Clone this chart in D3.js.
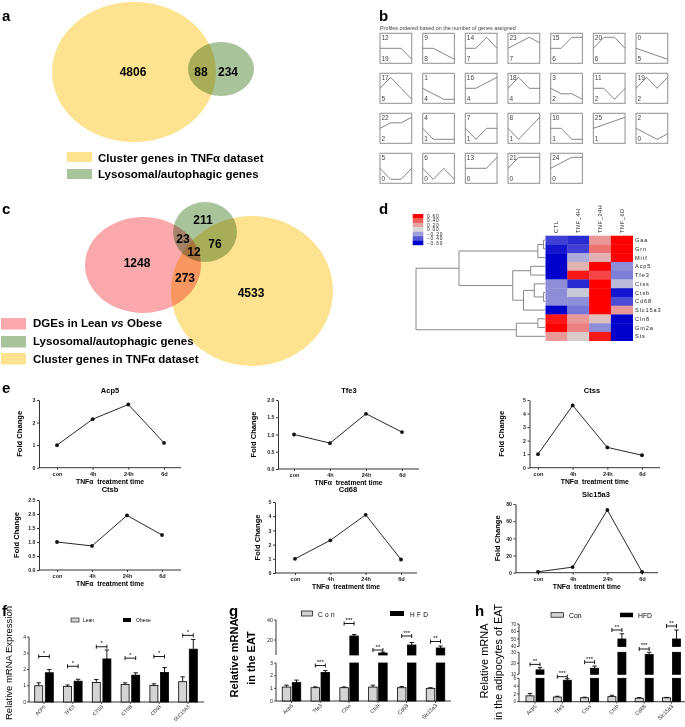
<!DOCTYPE html>
<html><head><meta charset="utf-8">
<script src="https://cdn.jsdelivr.net/npm/d3@7"></script>
<style>
body{margin:0;background:#fff}
text{font-family:"Liberation Sans",Arial,sans-serif}
</style>
</head><body>
<svg id="c" width="685" height="727"></svg>
<script>
// ---------------- DATA ----------------
const vennALabels = ["Cluster genes in TNFα dataset", "Lysosomal/autophagic genes"];
const vennACounts = [4806, 88, 234]; // TNF only, overlap, lyso only
const vennCLabels = ["DGEs in Lean vs Obese", "Lysosomal/autophagic genes", "Cluster genes in TNFα dataset"];
const vennCCounts = [211, 23, 76, 12, 1248, 273, 4533]; // lyso, DGE∩lyso, lyso∩TNF, all, DGE, DGE∩TNF, TNF

const profileIds    = [12, 9, 14, 23, 15, 20, 0, 17, 1, 16, 18, 3, 11, 19, 22, 4, 7, 8, 10, 25, 2, 5, 6, 13, 21, 24];
const profileCounts = [19, 8, 7, 7, 6, 6, 5, 5, 4, 4, 4, 2, 2, 2, 2, 1, 1, 1, 1, 1, 0, 0, 0, 0, 0, 0];
const profileShapes = [
  [0,0,0,-1],[0,0,-1,-2],[0,0,1,0],[0,1,2,1],[0,0,1,1],[0,1,1,0],[0,-1,-2,-3],
  [0,1,0,-1],[0,-1,-2,-2],[0,0,1,2],[0,1,0,0],[0,-1,-1,-2],[0,0,-1,0],[0,1,0,1],
  [0,1,1,2],[0,-1,-1,-1],[0,-1,0,0],[0,-1,0,1],[0,0,-1,-1],[0,1,2,3],[0,-1,-2,-1],
  [0,-1,-1,0],[0,-1,0,-1],[0,0,0,1],[0,1,1,1],[0,1,2,2]
];

const heatCols  = ["CTL", "TNF_4H", "TNF_24H", "TNF_6D"];
const heatGenes = ["Gaa", "Grn", "Mitf", "Acp5", "Tfe3", "Ctss", "Ctsb", "Cd68", "Slc15a3", "Cln8", "Gm2a", "Sts"];
const heatValues = [
  [-0.45, -0.50,  0.25,  0.60],
  [-0.55, -0.45,  0.35,  0.60],
  [-0.60, -0.15,  0.15,  0.60],
  [-0.60,  0.15,  0.60, -0.25],
  [-0.60,  0.55,  0.45, -0.30],
  [-0.25, -0.50,  0.60, -0.10],
  [-0.25, -0.05,  0.60, -0.55],
  [-0.25, -0.25,  0.60, -0.42],
  [-0.60, -0.32,  0.60,  0.25],
  [ 0.55,  0.25,  0.10, -0.60],
  [ 0.60,  0.32, -0.25, -0.60],
  [ 0.25,  0.05,  0.55, -0.60]
];
const heatLegendTicks = [0.6, 0.4, 0.2, 0.0, -0.2, -0.4, -0.6];
const dendroTree = {h:1.8, children:[
  {h:1.2, children:[
    {h:0.1, children:[{h:0.02, children:[{leaf:"Gaa"},{leaf:"Grn"}]}, {leaf:"Mitf"}]},
    {h:0.45, children:[
      {h:0.2, children:[{leaf:"Acp5"},{leaf:"Tfe3"}]},
      {h:0.3, children:[{h:0.15, children:[{leaf:"Ctss"},{h:0.02, children:[{leaf:"Ctsb"},{leaf:"Cd68"}]}]}, {leaf:"Slc15a3"}]}
    ]}
  ]},
  {h:0.4, children:[{h:0.1, children:[{leaf:"Cln8"},{leaf:"Gm2a"}]}, {leaf:"Sts"}]}
]};

const timePoints = ["con", "4h", "24h", "6d"];
const foldGenes  = ["Acp5", "Tfe3", "Ctss", "Ctsb", "Cd68", "Slc15a3"];
const foldAcp5   = [1.0, 2.15, 2.8, 1.1];
const foldTfe3   = [1.0, 0.75, 1.6, 1.07];
const foldCtss   = [1.0, 4.6, 1.5, 0.92];
const foldCtsb   = [1.0, 0.86, 1.95, 1.25];
const foldCd68   = [1.0, 2.3, 4.1, 0.95];
const foldSlc15a3= [1.0, 6.5, 73, 1.0];
const foldTicks  = [[0,1,2,3],[0,0.5,1,1.5,2],[0,1,2,3,4,5],[0,0.5,1,1.5,2,2.5],[0,1,2,3,4,5],[0,20,40,60,80]];

const fGenes   = ["ACP5", "TFE3", "CTSS", "CTSB", "CD68", "SLC15A3"];
const fLean    = [1.0, 0.95, 1.2, 1.08, 1.02, 1.25];
const fLeanErr = [0.18, 0.1, 0.18, 0.1, 0.1, 0.3];
const fObese   = [1.8, 1.28, 2.65, 1.65, 1.82, 3.25];
const fObeseErr= [0.2, 0.12, 0.55, 0.15, 0.3, 0.6];
const fSig     = ["*", "*", "*", "*", "*", "*"];
const fSigY    = [2.8, 2.2, 3.4, 2.7, 2.8, 4.1];
const fTicks   = [0, 1, 2, 3, 4];

const ghGenes  = ["Acp5", "Tfe3", "Ctss", "Ctsb", "Cd68", "Slc15a3"];
const gCon     = [1.1, 1.05, 1.05, 1.1, 1.05, 1.0];
const gConErr  = [0.15, 0.07, 0.06, 0.15, 0.1, 0.05];
const gHFD     = [1.45, 2.25, 24, 7, 15, 12];
const gHFDErr  = [0.2, 0.15, 1.5, 0.8, 2.5, 2];
const gSig     = ["", "***", "***", "**", "***", "**"];
const gSigY    = [0, 2.8, 36.5, 10, 24, 18.5];
const gTicks   = [0, 1, 2, 3, 20, 40];

const hCon     = [1.5, 1.2, 1.0, 1.3, 0.9, 1.0];
const hConErr  = [0.6, 0.2, 0.15, 0.35, 0.15, 0.1];
const hHFD     = [14, 5.5, 15.5, 50, 28, 50];
const hHFDErr  = [2, 0.4, 2, 7, 2, 12];
const hSig     = ["**", "***", "***", "**", "***", "**"];
const hSigY    = [19, 7.6, 21, 62, 35.7, 67.3];
const hTicks   = [0, 2, 4, 6, 10, 20, 30, 40, 50, 60, 70];

// ---------------- DRAWING ----------------
const svg = d3.select("#c");
svg.append("rect").attr("width",685).attr("height",727).attr("fill","#fff");

function panelLabel(t,x,y){
  svg.append("text").attr("x",x).attr("y",y).attr("font-size",15).attr("font-weight","bold").text(t);
}
panelLabel("a",2,21); panelLabel("b",379,21); panelLabel("c",2,214); panelLabel("d",379,214);
panelLabel("e",2,393); panelLabel("f",2,616); panelLabel("g",229,616); panelLabel("h",475,616);

// ----- Panel a -----
const yellow="#fde290", green="#a9c49b", pink="#f9a9ab";
const gA = svg.append("g");
gA.append("ellipse").attr("cx",134).attr("cy",72).attr("rx",82).attr("ry",70).attr("fill",yellow);
gA.append("ellipse").attr("cx",221).attr("cy",69).attr("rx",33).attr("ry",27).attr("fill",green).style("mix-blend-mode","multiply");
[[133,76],[201,76],[228,76]].forEach((p,i)=>{
  gA.append("text").attr("x",p[0]).attr("y",p[1]).attr("text-anchor","middle").attr("font-size",12).attr("font-weight","bold").text(vennACounts[i]);
});
[[yellow,152,162],[green,169,178]].forEach((r,i)=>{
  gA.append("rect").attr("x",67).attr("y",r[1]).attr("width",25).attr("height",10).attr("fill",r[0]);
  gA.append("text").attr("x",98).attr("y",r[2]).attr("font-size",11.5).attr("font-weight","bold").text(vennALabels[i]);
});

// ----- Panel c -----
const gC = svg.append("g");
gC.append("ellipse").attr("cx",143).attr("cy",265).attr("rx",58).attr("ry",48).attr("fill",pink);
gC.append("ellipse").attr("cx",205).attr("cy",232).attr("rx",32).attr("ry",30).attr("fill",green).style("mix-blend-mode","multiply");
gC.append("ellipse").attr("cx",252).attr("cy",291).attr("rx",81).attr("ry",75).attr("fill",yellow).style("mix-blend-mode","multiply");
[[203,224],[183,243],[215,248],[194,256],[137,267],[185,282],[251,297]].forEach((p,i)=>{
  gC.append("text").attr("x",p[0]).attr("y",p[1]).attr("text-anchor","middle").attr("font-size",12).attr("font-weight","bold").text(vennCCounts[i]);
});
[[pink,318,327],[green,336,345],[yellow,353,363]].forEach((r,i)=>{
  gC.append("rect").attr("x",1).attr("y",r[1]).attr("width",25).attr("height",11.5).attr("fill",r[0]);
  const t = gC.append("text").attr("x",33).attr("y",r[2]).attr("font-size",11.5).attr("font-weight","bold");
  if (i===0){
    const parts = vennCLabels[0].split(" vs ");
    t.append("tspan").text(parts[0]+" ");
    t.append("tspan").attr("font-style","italic").text("vs");
    t.append("tspan").text(" "+parts[1]);
  } else t.text(vennCLabels[i]);
});

// ----- Panel b -----
const gB = svg.append("g");
gB.append("text").attr("x",380).attr("y",30).attr("font-size",5.4).attr("fill","#444").text("Profiles ordered based on the number of genes assigned");
const bw=31.7, bh=30;
profileIds.forEach((id,i)=>{
  const col=i%7, row=Math.floor(i/7);
  const bx=380+col*42.67, by=33.3+row*40;
  const shape=profileShapes[i];
  const m=d3.max(shape,v=>Math.abs(v));
  const px=d3.scalePoint().domain([0,1,2,3]).range([bx,bx+bw]);
  const py=d3.scaleLinear().domain([-m,m]).range([by+bh/2+11,by+bh/2-11]);
  gB.append("rect").attr("x",bx).attr("y",by).attr("width",bw).attr("height",bh).attr("fill","none").attr("stroke","#999").attr("stroke-width",1.1);
  gB.append("path").attr("d",d3.line().x((d,j)=>px(j)).y(d=>py(d))(shape)).attr("fill","none").attr("stroke","#777").attr("stroke-width",0.9);
  gB.append("text").attr("x",bx+1.5).attr("y",by+7).attr("font-size",6.5).attr("fill","#444").text(id);
  gB.append("text").attr("x",bx+1.5).attr("y",by+bh-2).attr("font-size",6.5).attr("fill","#444").text(profileCounts[i]);
});

// ----- Panel d -----
const gD = svg.append("g");
const hxS = d3.scaleBand().domain(heatCols).range([545.5,632.7]);
const hyS = d3.scaleBand().domain(heatGenes).range([235.7,340.7]);
const hColor = d3.scaleLinear().domain([-0.6,-0.3,0,0.3,0.6]).range(["#0000cd","#7f7fd8","#d8d8d8","#ec8a8a","#ff0000"]).clamp(true);
heatGenes.forEach((g,r)=>{
  heatCols.forEach((c,k)=>{
    gD.append("rect").attr("x",hxS(c)).attr("y",hyS(g)).attr("width",hxS.bandwidth()+0.3).attr("height",hyS.bandwidth()+0.3).attr("fill",hColor(heatValues[r][k]));
  });
  gD.append("text").attr("x",635).attr("y",hyS(g)+hyS.bandwidth()/2+2).attr("font-size",5.6).attr("letter-spacing",0.9).attr("fill","#222").text(g);
});
heatCols.forEach(c=>{
  const cx=hxS(c)+hxS.bandwidth()/2+2;
  gD.append("text").attr("transform",`translate(${cx},233) rotate(-90)`).attr("font-size",5.6).attr("letter-spacing",0.6).attr("fill","#222").text(c);
});
// legend
const legY=d3.scaleBand().domain(heatLegendTicks).range([214,245]);
heatLegendTicks.forEach(v=>{
  gD.append("rect").attr("x",412.7).attr("y",legY(v)).attr("width",10.6).attr("height",legY.bandwidth()+0.2).attr("fill",hColor(v));
  gD.append("text").attr("x",427).attr("y",legY(v)+legY.bandwidth()/2+1.8).attr("font-size",4.8).attr("letter-spacing",0.8).attr("fill","#222").text(d3.format(".2f")(v));
});
// dendrogram
const dX = d3.scaleLinear().domain([0,1.8]).range([545,416]);
function nodeY(n){ if(n.leaf) return hyS(n.leaf)+hyS.bandwidth()/2; n._y=d3.mean(n.children,nodeY); return n._y; }
nodeY(dendroTree);
function drawNode(n){
  if(n.leaf) return;
  const ys=n.children.map(c=>c.leaf? hyS(c.leaf)+hyS.bandwidth()/2 : c._y);
  gD.append("line").attr("x1",dX(n.h)).attr("x2",dX(n.h)).attr("y1",ys[0]).attr("y2",ys[1]).attr("stroke","#888").attr("stroke-width",1);
  n.children.forEach((c,i)=>{
    gD.append("line").attr("x1",dX(n.h)).attr("x2",dX(c.leaf?0:c.h)).attr("y1",ys[i]).attr("y2",ys[i]).attr("stroke","#888").attr("stroke-width",1);
    drawNode(c);
  });
}
drawNode(dendroTree);

// ----- Panel e -----
const foldSeries=[foldAcp5,foldTfe3,foldCtss,foldCtsb,foldCd68,foldSlc15a3];
const eLayout=[
  {ax:39,right:181,top:400,bottom:467.7,t0:57,t1:164,tX:110,tY:393,ytX:22},
  {ax:278,right:419,top:400,bottom:469,t0:294,t1:402,tX:349,tY:393,ytX:256},
  {ax:529.5,right:660,top:400,bottom:467.7,t0:538,t1:642,tX:592,tY:393,ytX:504},
  {ax:39,right:181,top:500,bottom:570,t0:57,t1:162,tX:110,tY:492,ytX:19},
  {ax:275,right:417,top:502,bottom:573,t0:295,t1:401,tX:348,tY:492,ytX:260},
  {ax:515.5,right:658,top:504,bottom:572.7,t0:538,t1:642,tX:596,tY:497,ytX:500}
];
foldSeries.forEach((vals,i)=>{
  const L=eLayout[i], ticks=foldTicks[i];
  const g=svg.append("g");
  const x=d3.scalePoint().domain(timePoints).range([L.t0,L.t1]);
  const y=d3.scaleLinear().domain([0,d3.max(ticks)]).range([L.bottom,L.top]);
  const fmt = ticks.some(t=>t%1!==0) ? d3.format(".1f") : d3.format("d");
  const ya=g.append("g").attr("transform",`translate(${L.ax},0)`).call(d3.axisLeft(y).tickValues(ticks).tickFormat(fmt).tickSize(2).tickSizeOuter(0).tickPadding(1.5));
  ya.select(".domain").attr("stroke","#333");
  ya.selectAll("text").attr("font-size",5.2).attr("font-weight","bold").attr("fill","#222");
  ya.selectAll(".tick line").attr("stroke","#333");
  const xa=g.append("g").attr("transform",`translate(0,${L.bottom})`).call(d3.axisBottom(x).tickSize(2).tickSizeOuter(0).tickPadding(2.5));
  xa.select(".domain").remove();
  xa.selectAll("text").attr("font-size",5.6).attr("font-weight","bold").attr("fill","#222");
  xa.selectAll(".tick line").attr("stroke","#333");
  g.append("line").attr("x1",L.ax).attr("x2",L.right).attr("y1",L.bottom).attr("y2",L.bottom).attr("stroke","#333");
  g.append("path").attr("d",d3.line().x((d,j)=>x(timePoints[j])).y(d=>y(d))(vals)).attr("fill","none").attr("stroke","#111").attr("stroke-width",0.9);
  g.selectAll("circle").data(vals).join("circle").attr("cx",(d,j)=>x(timePoints[j])).attr("cy",d=>y(d)).attr("r",1.9).attr("fill","#111");
  const cx=(L.ax+L.right)/2;
  g.append("text").attr("x",L.tX).attr("y",L.tY).attr("text-anchor","middle").attr("font-size",7.5).attr("font-weight","bold").text(foldGenes[i]);
  g.append("text").attr("x",cx).attr("y",L.bottom+16).attr("text-anchor","middle").attr("font-size",6.8).attr("font-weight","bold").attr("xml:space","preserve").text("TNFα  treatment time");
  g.append("text").attr("transform",`translate(${L.ytX},${(L.top+L.bottom)/2}) rotate(-90)`).attr("text-anchor","middle").attr("font-size",7.6).attr("font-weight","bold").text("Fold Change");
});

// ----- bar chart helper -----
function barChart(o){
  const g=svg.append("g");
  const x=d3.scalePoint().domain(o.genes).range(o.xr);
  const y=d3.scaleLinear().domain(o.yDomain).range(o.yRange);
  o.segments.forEach(s=>{
    g.append("line").attr("x1",o.ax).attr("x2",o.ax).attr("y1",y(s[0])).attr("y2",y(s[1])).attr("stroke","#222").attr("stroke-width",0.9);
  });
  o.ticks.forEach(t=>{
    g.append("line").attr("x1",o.ax-2).attr("x2",o.ax).attr("y1",y(t)).attr("y2",y(t)).attr("stroke","#222").attr("stroke-width",0.8);
    g.append("text").attr("x",o.ax-3).attr("y",y(t)+1.7).attr("text-anchor","end").attr("font-size",o.tickFont).attr("fill","#222").text(t);
  });
  g.append("line").attr("x1",o.ax).attr("x2",o.xEnd).attr("y1",y(0)).attr("y2",y(0)).attr("stroke","#222").attr("stroke-width",0.9);
  function bar(cx,v,err,fill){
    o.segments.forEach(s=>{
      const lo=s[0], hi=Math.min(v,s[1]);
      if(hi<=lo) return;
      g.append("rect").attr("x",cx-o.bw/2).attr("y",y(hi)).attr("width",o.bw).attr("height",y(lo)-y(hi)).attr("fill",fill).attr("stroke","#000").attr("stroke-width",0.8);
    });
    g.append("line").attr("x1",cx).attr("x2",cx).attr("y1",y(v)).attr("y2",y(v+err)).attr("stroke","#000").attr("stroke-width",0.9);
    g.append("line").attr("x1",cx-2.2).attr("x2",cx+2.2).attr("y1",y(v+err)).attr("y2",y(v+err)).attr("stroke","#000").attr("stroke-width",0.9);
  }
  o.genes.forEach((gn,i)=>{
    const c=x(gn);
    bar(c-o.off,o.a[i],o.aErr[i],"#d4d4d4");
    bar(c+o.off,o.b[i],o.bErr[i],"#000");
    g.append("line").attr("x1",c).attr("x2",c).attr("y1",y(0)).attr("y2",y(0)+2).attr("stroke","#222").attr("stroke-width",0.8);
    g.append("text").attr("transform",`translate(${c+2},${y(0)+5}) rotate(-45)`).attr("text-anchor","end").attr("font-size",o.xFont).attr("fill","#222").text(gn);
    if(o.sig[i]){
      const sy=y(o.sigY[i]), x1=c-o.off, x2=c+o.off;
      g.append("line").attr("x1",x1).attr("x2",x2).attr("y1",sy).attr("y2",sy).attr("stroke","#000").attr("stroke-width",0.9);
      [x1,x2].forEach(xx=>g.append("line").attr("x1",xx).attr("x2",xx).attr("y1",sy-2).attr("y2",sy+2).attr("stroke","#000").attr("stroke-width",0.9));
      g.append("text").attr("x",c).attr("y",sy-1.5).attr("text-anchor","middle").attr("font-size",6).attr("fill","#000").text(o.sig[i]);
    }
  });
  return g;
}

// ----- Panel f -----
barChart({genes:fGenes,xr:[44,188],yDomain:[0,4],yRange:[702,637],segments:[[0,4]],ticks:fTicks,ax:29,xEnd:204,
  a:fLean,aErr:fLeanErr,b:fObese,bErr:fObeseErr,sig:fSig,sigY:fSigY,bw:8,off:5.3,tickFont:5,xFont:4.8});
svg.append("rect").attr("x",71).attr("y",618).attr("width",8).attr("height",4).attr("fill","#d4d4d4").attr("stroke","#000").attr("stroke-width",0.6);
svg.append("text").attr("x",83).attr("y",622).attr("font-size",5).text("Lean");
svg.append("rect").attr("x",123).attr("y",618).attr("width",8).attr("height",4).attr("fill","#000");
svg.append("text").attr("x",136).attr("y",622).attr("font-size",5).text("Obese");
svg.append("text").attr("transform","translate(12,663) rotate(-90)").attr("text-anchor","middle").attr("font-size",9.5).text("Relative mRNA Expression");

// ----- Panel g -----
barChart({genes:ghGenes,xr:[291.5,435.5],yDomain:[0,3,5,40],yRange:[701,663,655,620],segments:[[0,3],[5,40]],ticks:gTicks,ax:276,xEnd:451,
  a:gCon,aErr:gConErr,b:gHFD,bErr:gHFDErr,sig:gSig,sigY:gSigY,bw:8.5,off:5,tickFont:5.3,xFont:5.3});
svg.append("rect").attr("x",301.5).attr("y",611).attr("width",11).attr("height",5).attr("fill","#d4d4d4").attr("stroke","#000").attr("stroke-width",0.7);
svg.append("text").attr("x",318).attr("y",616.5).attr("font-size",6.5).attr("letter-spacing",2.3).text("Con");
svg.append("rect").attr("x",390).attr("y",611).attr("width",14).attr("height",5).attr("fill","#000");
svg.append("text").attr("x",410).attr("y",616.5).attr("font-size",6.5).attr("letter-spacing",2.3).text("HFD");
svg.append("text").attr("transform","translate(238,658) rotate(-90)").attr("text-anchor","middle").attr("font-size",11).attr("font-weight","bold").text("Relative mRNA");
svg.append("text").attr("transform","translate(255,658) rotate(-90)").attr("text-anchor","middle").attr("font-size",11).attr("font-weight","bold").text("in the EAT");

// ----- Panel h -----
barChart({genes:ghGenes,xr:[535,671.5],yDomain:[0,6,10,30,40,70],yRange:[701.7,678.3,674.3,652.3,646.5,624],segments:[[0,6],[10,30],[40,70]],ticks:hTicks,ax:519,xEnd:685,
  a:hCon,aErr:hConErr,b:hHFD,bErr:hHFDErr,sig:hSig,sigY:hSigY,bw:8,off:5,tickFont:4.6,xFont:5.3});
svg.append("rect").attr("x",551).attr("y",612.7).attr("width",12.5).attr("height",4.5).attr("fill","#d4d4d4").attr("stroke","#000").attr("stroke-width",0.7);
svg.append("text").attr("x",569).attr("y",617.5).attr("font-size",6.8).text("Con");
svg.append("rect").attr("x",620).attr("y",612.7).attr("width",13).attr("height",4.5).attr("fill","#000");
svg.append("text").attr("x",638).attr("y",617.5).attr("font-size",6.8).text("HFD");
svg.append("text").attr("transform","translate(488,661) rotate(-90)").attr("text-anchor","middle").attr("font-size",11).text("Relative mRNA");
svg.append("text").attr("transform","translate(501.5,662) rotate(-90)").attr("text-anchor","middle").attr("font-size",10.8).text("in the adipocytes of EAT");
</script>
</body></html>
